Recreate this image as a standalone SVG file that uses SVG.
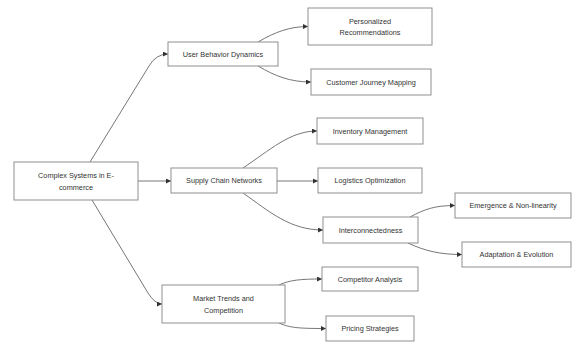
<svg xmlns="http://www.w3.org/2000/svg" width="573" height="343" viewBox="0 0 573 343">
<style>
.n rect{fill:#ffffff;stroke:#8f8f8f;stroke-width:1}
.n text{font-family:"Liberation Sans",Arial,sans-serif;font-size:7.3px;fill:#333333;text-anchor:middle;dominant-baseline:central}
.e path{fill:none;stroke:#666666;stroke-width:0.9;marker-end:url(#arr)}
</style>
<defs>
<marker id="arr" viewBox="0 0 10 10" refX="10" refY="5" markerWidth="5" markerHeight="5" orient="auto" markerUnits="userSpaceOnUse">
<path d="M0,0 L10,5 L0,10 z" fill="#333333"/>
</marker>
</defs>
<rect width="573" height="343" fill="#ffffff"/>
<g class="e" id="connectors">
<path d="M 90 162 L 149 66 Q 156 54 168 54"/>
<path d="M 138 181 L 171 181"/>
<path d="M 92 200 L 148 293 Q 155 304 162 304"/>
<path d="M 258 42 C 275 32, 290 26.5, 308 26.5"/>
<path d="M 258 66 C 275 76, 290 82, 311 82"/>
<path d="M 243 168 C 270 150, 290 131, 317 131"/>
<path d="M 277 181 L 318 181"/>
<path d="M 243 193 C 270 212, 290 230, 323 230"/>
<path d="M 410 217 C 425 209, 435 205.5, 455 205.5"/>
<path d="M 408 243 C 425 251, 440 254.5, 462 254.5"/>
<path d="M 279 285 C 290 280, 300 279, 322 279"/>
<path d="M 279 323 C 290 328, 300 328.5, 326 328.5"/>
</g>
<g class="n" id="root"><rect x="14" y="162" width="124" height="38"/><text x="76" y="175.5">Complex Systems in E-</text><text x="76" y="187">commerce</text></g>
<g class="n" id="ubd"><rect x="168" y="42" width="110" height="24"/><text x="223" y="54">User Behavior Dynamics</text></g>
<g class="n" id="pers"><rect x="308" y="8" width="124" height="37"/><text x="370" y="21">Personalized</text><text x="370" y="32">Recommendations</text></g>
<g class="n" id="cjm"><rect x="311" y="69" width="120" height="26"/><text x="371" y="82">Customer Journey Mapping</text></g>
<g class="n" id="scn"><rect x="171" y="168" width="106" height="25"/><text x="224" y="180.5">Supply Chain Networks</text></g>
<g class="n" id="inv"><rect x="317" y="118" width="106" height="26"/><text x="370" y="131">Inventory Management</text></g>
<g class="n" id="log"><rect x="318" y="168" width="104" height="25"/><text x="370" y="180.5">Logistics Optimization</text></g>
<g class="n" id="inter"><rect x="323" y="217" width="95" height="26"/><text x="370.5" y="230">Interconnectedness</text></g>
<g class="n" id="emer"><rect x="455" y="193" width="116" height="25"/><text x="513" y="205.5">Emergence &amp; Non-linearity</text></g>
<g class="n" id="adapt"><rect x="462" y="242" width="109" height="25"/><text x="516.5" y="254.5">Adaptation &amp; Evolution</text></g>
<g class="n" id="market"><rect x="162" y="285" width="123" height="38"/><text x="223.5" y="298">Market Trends and</text><text x="223.5" y="310">Competition</text></g>
<g class="n" id="comp"><rect x="322" y="267" width="96" height="24"/><text x="370" y="279">Competitor Analysis</text></g>
<g class="n" id="price"><rect x="326" y="316" width="88" height="25"/><text x="370" y="328.5">Pricing Strategies</text></g>
</svg>
